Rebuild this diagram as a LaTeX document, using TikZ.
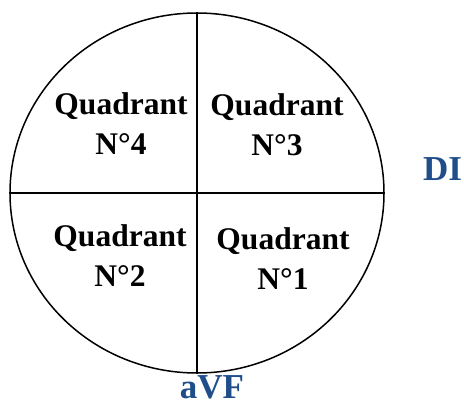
\documentclass[tikz,border=0pt]{standalone}
\usepackage{fontspec}
\setmainfont{Liberation Serif}
\usetikzlibrary{shapes.geometric}
\definecolor{leadblue}{HTML}{1F4E8A}
\begin{document}
\begin{tikzpicture}[x=1pt,y=-1pt,
  quadtext/.style={align=center,font=\bfseries\fontsize{31.5}{40}\selectfont,inner sep=0pt},
  leadtext/.style={text=leadblue,font=\bfseries\fontsize{35}{40}\selectfont,inner sep=0pt}]
\useasboundingbox (0,0) rectangle (464,405);
\node[ellipse,draw,line width=1.5pt,minimum width=374pt,minimum height=360pt,inner sep=0pt] (c) at (197,193) {};
\draw[line width=1.2pt] (c.north) -- (c.south);
\draw[line width=1.2pt] (c.west) -- (c.east);
\node[quadtext] (q4) at (121,124) {Quadrant\\N°4};
\node[quadtext] (q3) at (277,124.5) {Quadrant\\N°3};
\node[quadtext] (q2) at (120,256) {Quadrant\\N°2};
\node[quadtext] (q1) at (283,259) {Quadrant\\N°1};
\node[leadtext,anchor=base west] (di) at (423,180.5) {DI};
\node[leadtext,anchor=base] (avf) at (212,398) {aVF};
\end{tikzpicture}
\end{document}
